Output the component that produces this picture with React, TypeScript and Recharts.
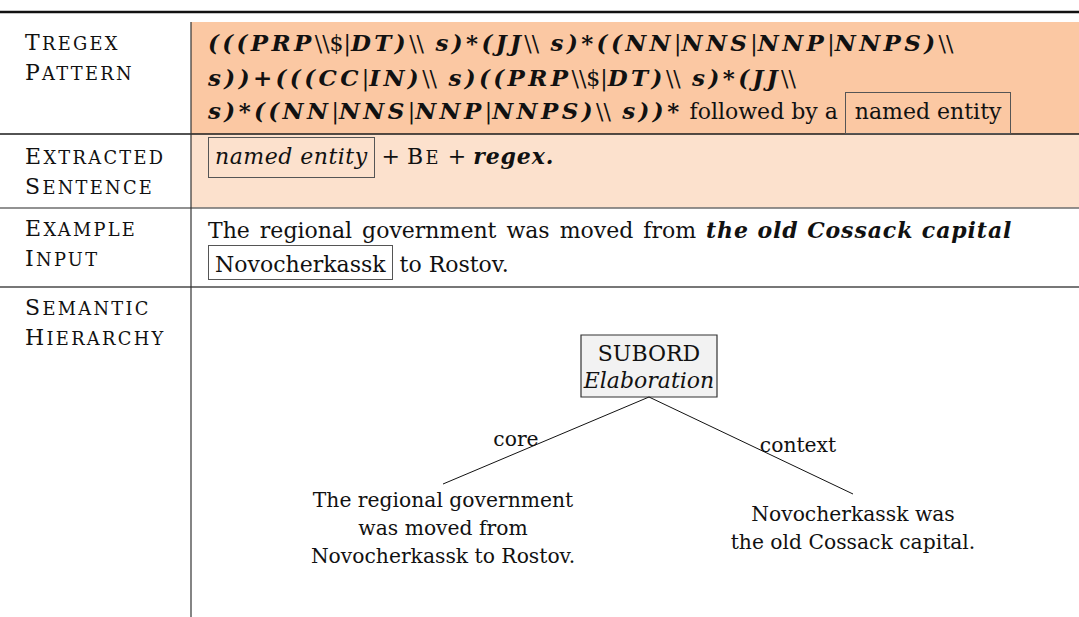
import { ScatterChart, XAxis, YAxis, Scatter, ReferenceArea, ReferenceLine } from 'recharts';

const W = 1079;
const H = 617;
const SERIF = '"DejaVu Serif", "Liberation Serif", serif';
const FS = 22;
const TREE_FS = 20.3;

// r roman, rw roman with wider spaces, bm math bold italic, bi text bold italic, sc small caps,
// box / boxi framed (with descenders), boxf framed (no descenders)
type Style = 'r' | 'rw' | 'bm' | 'bi' | 'sc' | 'box' | 'boxi' | 'boxf';
type Seg = [string, Style];

// left column, one entry per table row (drawn in small caps)
const rowLabels: string[][] = [
  ['Tregex', 'Pattern'],
  ['Extracted', 'Sentence'],
  ['Example', 'Input'],
  ['Semantic', 'Hierarchy'],
];

// right column text
const patternLines: Seg[][] = [
  [['(((PRP', 'bm'], ['\\\\$|', 'r'], ['DT)', 'bm'], ['\\\\', 'r'], [' s)*(JJ', 'bm'], ['\\\\', 'r'], [' s)*((NN', 'bm'], ['|', 'r'], ['NNS', 'bm'], ['|', 'r'], ['NNP', 'bm'], ['|', 'r'], ['NNPS)', 'bm'], ['\\\\', 'r']],
  [['s))+(((CC', 'bm'], ['|', 'r'], ['IN)', 'bm'], ['\\\\', 'r'], [' s)((PRP', 'bm'], ['\\\\$|', 'r'], ['DT)', 'bm'], ['\\\\', 'r'], [' s)*(JJ', 'bm'], ['\\\\', 'r']],
  [['s)*((NN', 'bm'], ['|', 'r'], ['NNS', 'bm'], ['|', 'r'], ['NNP', 'bm'], ['|', 'r'], ['NNPS)', 'bm'], ['\\\\', 'r'], [' s))*', 'bm'], [' followed by a ', 'r'], ['named entity', 'box']],
];
const extractedLines: Seg[][] = [
  [['named entity', 'boxi'], [' + ', 'r'], ['Be', 'sc'], [' + ', 'r'], ['regex.', 'bi']],
];
const exampleLines: Seg[][] = [
  [['The regional government was moved from ', 'rw'], ['the old Cossack capital', 'bi']],
  [['Novocherkassk', 'boxf'], [' to Rostov.', 'r']],
];
const cellLines = [patternLines, extractedLines, exampleLines];

// semantic hierarchy tree
const rootLines = ['SUBORD', 'Elaboration'];
const edgeLabels = ['core', 'context'];
const leafLines: string[][] = [
  ['The regional government', 'was moved from', 'Novocherkassk to Rostov.'],
  ['Novocherkassk was', 'the old Cossack capital.'],
];

// layout (y axis runs top-down, units are px of the figure)
const rowEdges = [22, 134, 208, 287, 617];
const rowFills = ['#fbc8a3', '#fce1cd', 'none', 'none'];
const ruleColors = ['#1a1a1a', '#6e6e6e', '#4a4a4a'];
const colX = 191;
const labelX = 25;
const textX = 208;
const labelBase = [51, 165, 237, 316];
const cellBase = [[51, 86, 119], [164], [238, 273]];
const rootBox = { x1: 581, x2: 717, y1: 335, y2: 397 };
const rootBase = [361, 388];
const leafTop = [{ x: 443, y: 484 }, { x: 853, y: 494 }];
const edgeLabelPos = [{ x: 516, y: 446 }, { x: 798, y: 452 }];
const leafBase = [507, 521];
const lineStep = 28;

type Item =
  | { x: number; y: number; kind: 'rich'; segs: Seg[] }
  | { x: number; y: number; kind: 'plain'; text: string; italic?: boolean; size: number };

const items: Item[] = [];
rowLabels.forEach((lines, r) =>
  lines.forEach((t, i) => items.push({ x: labelX, y: labelBase[r] + i * 30, kind: 'rich', segs: [[t, 'sc']] }))
);
cellLines.forEach((lines, r) =>
  lines.forEach((segs, i) => items.push({ x: textX, y: cellBase[r][i], kind: 'rich', segs }))
);
rootLines.forEach((t, i) =>
  items.push({ x: (rootBox.x1 + rootBox.x2) / 2, y: rootBase[i], kind: 'plain', text: t, italic: i === 1, size: FS })
);
edgeLabels.forEach((t, i) =>
  items.push({ x: edgeLabelPos[i].x, y: edgeLabelPos[i].y, kind: 'plain', text: t, size: TREE_FS })
);
leafLines.forEach((lines, l) =>
  lines.forEach((t, i) =>
    items.push({ x: leafTop[l].x, y: leafBase[l] + i * lineStep, kind: 'plain', text: t, size: TREE_FS })
  )
);

const frame = '1px solid #555';

function segStyle(s: Style): React.CSSProperties {
  switch (s) {
    case 'rw':
      return { wordSpacing: 3 };
    case 'bm':
      return { fontWeight: 700, fontStyle: 'italic', fontSize: 23, letterSpacing: 3.4 };
    case 'bi':
      return { fontWeight: 700, fontStyle: 'italic', letterSpacing: 0.9 };
    case 'box':
      return { border: frame, padding: '6px 9px 9px' };
    case 'boxi':
      return { border: frame, padding: '6px 6px 8px', fontStyle: 'italic', letterSpacing: 0.5 };
    case 'boxf':
      return { border: frame, padding: '6px 6px 2px' };
    default:
      return {};
  }
}

// small caps the way LaTeX draws them: capitals full size, the rest as smaller capitals
function SmallCaps({ text }: { text: string }) {
  const parts: { t: string; big: boolean }[] = [];
  for (const ch of text) {
    const big = ch !== ch.toLowerCase();
    const last = parts[parts.length - 1];
    if (last && last.big === big) last.t += ch;
    else parts.push({ t: ch, big });
  }
  return (
    <span style={{ letterSpacing: 2.3 }}>
      {parts.map((p, i) => (
        <span key={i} style={{ fontSize: p.big ? FS : FS * 0.81 }}>{p.t.toUpperCase()}</span>
      ))}
    </span>
  );
}

// the html block starts PAD px above the line box so frames are not clipped
const PAD = 20;

function TextMark(props: any) {
  const { cx, cy, payload } = props;
  const it = payload as Item;
  if (it.kind === 'plain') {
    return (
      <text x={cx} y={cy} textAnchor="middle" fontFamily={SERIF} fontSize={it.size} fill="#111" fontStyle={it.italic ? 'italic' : 'normal'}>
        {it.text}
      </text>
    );
  }
  return (
    <foreignObject x={cx - 10} y={cy - 19 - PAD} width={W - cx + 10} height={70}>
      <div style={{ fontFamily: SERIF, fontSize: FS, lineHeight: `${FS}px`, whiteSpace: 'pre', color: '#111', paddingTop: PAD, paddingLeft: 10 }}>
        {it.segs.map(([t, s], i) =>
          s === 'sc' ? <SmallCaps key={i} text={t} /> : <span key={i} style={segStyle(s)}>{t}</span>
        )}
      </div>
    </foreignObject>
  );
}

export default function App() {
  return (
    <div style={{ width: W, height: H, background: '#fff' }}>
      <style>{'body{margin:0}'}</style>
      <ScatterChart width={W} height={H} margin={{ top: 0, right: 0, bottom: 0, left: 0 }}>
        <XAxis dataKey="x" type="number" domain={[0, W]} hide />
        <YAxis dataKey="y" type="number" domain={[0, H]} reversed hide />

        {rowFills.map((f, r) =>
          f === 'none' ? null : (
            <ReferenceArea key={`bg${r}`} x1={colX} x2={W} y1={rowEdges[r]} y2={rowEdges[r + 1]} fill={f} fillOpacity={1} stroke="none" />
          )
        )}

        {/* rules */}
        <ReferenceLine segment={[{ x: 0, y: 12 }, { x: W, y: 12 }]} stroke="#111" strokeWidth={2.6} />
        {ruleColors.map((c, i) => (
          <ReferenceLine key={`rule${i}`} segment={[{ x: 0, y: rowEdges[i + 1] }, { x: W, y: rowEdges[i + 1] }]} stroke={c} strokeWidth={1.4} />
        ))}
        <ReferenceLine segment={[{ x: colX, y: rowEdges[0] }, { x: colX, y: H }]} stroke="#333" strokeWidth={1.2} />

        {/* tree */}
        <ReferenceArea x1={rootBox.x1} x2={rootBox.x2} y1={rootBox.y1} y2={rootBox.y2} fill="#f2f2f2" fillOpacity={1} stroke="#333" strokeWidth={1.2} />
        {leafTop.map((p, i) => (
          <ReferenceLine key={`edge${i}`} segment={[{ x: (rootBox.x1 + rootBox.x2) / 2, y: rootBox.y2 }, p]} stroke="#111" strokeWidth={1} />
        ))}

        <Scatter data={items} shape={TextMark} isAnimationActive={false} />
      </ScatterChart>
    </div>
  );
}
